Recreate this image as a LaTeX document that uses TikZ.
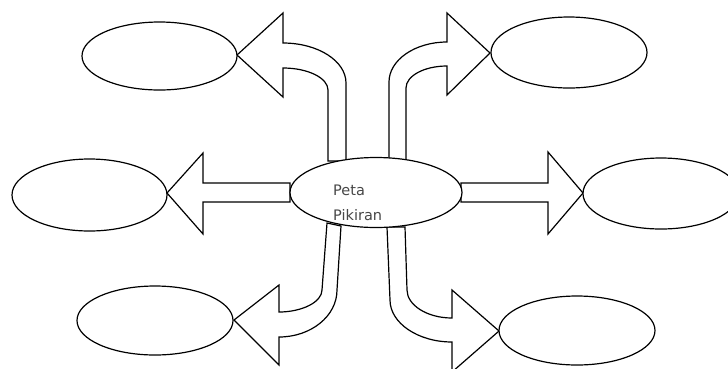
\documentclass[tikz,border=0pt]{standalone}
\usepackage{fontspec}
\setmainfont{DejaVu Sans}
\usetikzlibrary{shapes.geometric}
\tikzset{
  bubble/.style={draw=black, fill=white, ellipse, line width=1.2pt, inner sep=0pt},
  blockarrow/.style={draw=black, fill=white, line width=1.2pt, line join=miter},
  label/.style={text=black!72, font=\fontsize{14.5}{25}\selectfont, inner sep=0pt, anchor=base west}
}
\begin{document}
\begin{tikzpicture}[x=1pt,y=-1pt]
\path[use as bounding box, clip] (0,0) rectangle (728,368);
% block arrows
% top-left
\draw[blockarrow] (346,161) -- (346,83) .. controls (346,61) and (318,43) .. (283,43)
  -- (283,13) -- (237,55) -- (283,97) -- (283,68)
  .. controls (308,68) and (328,78) .. (328,90) -- (328,161) -- cycle;
% top-right
\draw[blockarrow] (389,160) -- (389,82) .. controls (389,60) and (415,42) .. (447,42)
  -- (447,13) -- (490,53) -- (447,95) -- (447,66)
  .. controls (424,66) and (406,76) .. (406,88) -- (406,160) -- cycle;
% middle-left
\draw[blockarrow] (290,183) -- (203,183) -- (203,153) -- (167,193) -- (203,234) -- (203,202) -- (290,202) -- cycle;
% middle-right
\draw[blockarrow] (461,183) -- (548,183) -- (548,152) -- (583,193) -- (548,234) -- (548,202) -- (461,202) -- cycle;
% bottom-left
\draw[blockarrow] (327,223) -- (322,290) .. controls (322,302) and (302,312) .. (279,312)
  -- (279,285) -- (234,320) -- (279,365) -- (279,337)
  .. controls (311,337) and (337,316) .. (337,290) -- (341,226) -- cycle;
% bottom-right
\draw[blockarrow] (387,227) -- (390,300) .. controls (390,323) and (418,342) .. (452,342)
  -- (452,372) -- (499,331) -- (452,290) -- (452,318)
  .. controls (427,318) and (407,305) .. (407,290) -- (405,227) -- cycle;
% bubbles
\node[bubble, minimum width=172pt, minimum height=70pt] (c) at (376,192.5) {};
\node[bubble, minimum width=155pt, minimum height=68pt] (tl) at (159.5,56) {};
\node[bubble, minimum width=155pt, minimum height=72pt] (ml) at (89.5,195) {};
\node[bubble, minimum width=156pt, minimum height=69pt] (bl) at (155,320.5) {};
\node[bubble, minimum width=156pt, minimum height=71pt] (tr) at (569,52.5) {};
\node[bubble, minimum width=156pt, minimum height=71pt] (mr) at (661,193.5) {};
\node[bubble, minimum width=156pt, minimum height=69pt] (br) at (577,330.5) {};
% text
\node[label] (t1) at (333,195) {Peta};
\node[label] (t2) at (333,220) {Pikiran};
\end{tikzpicture}
\end{document}
